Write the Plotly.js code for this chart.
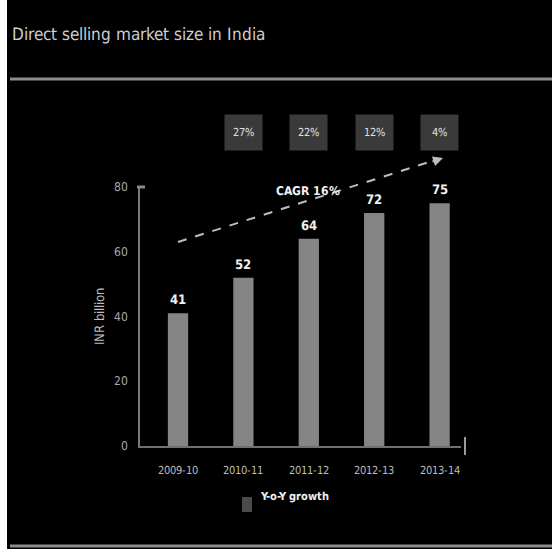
<!DOCTYPE html>
<html>
<head>
<meta charset="utf-8">
<script src="https://cdn.plot.ly/plotly-3.0.1.min.js"></script>
<style>
@font-face{font-family:"CondX";font-weight:400;src:local("Liberation Sans Narrow"),local("LiberationSansNarrow"),local("LiberationSansNarrow-Regular"),local("DejaVu Sans Condensed"),local("DejaVuSansCondensed"),local("DejaVuSans-Condensed");}
@font-face{font-family:"CondX";font-weight:700;src:local("Liberation Sans Narrow Bold"),local("LiberationSansNarrow-Bold"),local("DejaVu Sans Condensed Bold"),local("DejaVuSansCondensed-Bold"),local("DejaVuSans-BoldCondensed");}
html,body{margin:0;padding:0;background:#fff;}#chart{width:552px;height:549px;}
</style>
</head>
<body>
<div id="chart"></div>
<script>
// ---- data ----
const categories = ["2009-10", "2010-11", "2011-12", "2012-13", "2013-14"];
const marketSize = [41, 52, 64, 72, 75];
const growthCategories = ["2010-11", "2011-12", "2012-13", "2013-14"];
const growthPct = [27, 22, 12, 4];
const yTicks = [0, 20, 40, 60, 80];
const cagrLabel = "CAGR 16%";

// ---- layout helpers (pixel -> paper) ----
const W = 552, H = 549;
const L = 140, R = 461, T = 187, B = 446;
const px = x => (x - L) / (R - L);
const py = y => (B - y) / (B - T);
const FONT = 'CondX, "DejaVu Sans Condensed", "Arial Narrow", sans-serif';

function draw() {
  const barTrace = {
    type: "bar",
    x: categories,
    y: marketSize,
    marker: {color: "#858585", line: {width: 0}},
    width: 0.31,
    showlegend: false,
    hoverinfo: "x+y"
  };

  const annotations = [];
  categories.forEach((c, i) => {
    annotations.push({
      x: c, y: marketSize[i], xref: "x", yref: "y",
      text: "<b>" + marketSize[i] + "</b>", showarrow: false,
      yanchor: "bottom", yshift: 4,
      font: {family: FONT, size: 13, color: "#f0f0f0"}
    });
  });
  growthCategories.forEach((c, i) => {
    annotations.push({
      x: c, xref: "x", y: py(132), yref: "paper", yanchor: "middle",
      text: growthPct[i] + "%", showarrow: false,
      width: 37, height: 35, bgcolor: "#3a3a3a", borderpad: 0,
      font: {family: FONT, size: 11, color: "#e0e0e0"}
    });
  });
  annotations.push({
    x: px(308), y: py(182), xref: "paper", yref: "paper",
    text: "<b>" + cagrLabel + "</b>", showarrow: false,
    font: {family: FONT, size: 11.5, color: "#f0f0f0"}
  });
  annotations.push({
    x: px(443), y: py(158), xref: "paper", yref: "paper",
    text: "", showarrow: true, ax: -12, ay: 4,
    arrowhead: 2, arrowsize: 1, arrowwidth: 2, arrowcolor: "#bdbdbd"
  });
  annotations.push({
    x: px(258), y: py(505), xref: "paper", yref: "paper",
    text: "<b>Y-o-Y growth</b>", showarrow: false, xanchor: "left",
    font: {family: FONT, size: 11, color: "#f0f0f0"}
  });

  const shapes = [
    {type: "rect", xref: "paper", yref: "paper", x0: px(0), x1: px(7), y0: py(H), y1: py(0),
     fillcolor: "#ffffff", line: {width: 0}, layer: "below"},
    {type: "line", xref: "paper", yref: "paper", x0: px(10), x1: px(W), y0: py(79), y1: py(79),
     line: {color: "#8c8c8c", width: 3}},
    {type: "line", xref: "paper", yref: "paper", x0: px(10), x1: px(W), y0: py(546), y1: py(546),
     line: {color: "#8c8c8c", width: 3}},
    {type: "line", xref: "paper", yref: "paper", x0: px(137), x1: px(145), y0: py(187), y1: py(187),
     line: {color: "#8a8a8a", width: 3}},
    {type: "line", xref: "paper", yref: "paper", x0: px(465), x1: px(465), y0: py(437), y1: py(455),
     line: {color: "#9a9a9a", width: 2}},
    {type: "line", xref: "paper", yref: "paper", x0: px(178), y0: py(242), x1: px(434), y1: py(160.5),
     line: {color: "#bdbdbd", width: 2, dash: "dash"}},
    {type: "rect", xref: "paper", yref: "paper", x0: px(242), x1: px(252), y0: py(512), y1: py(497),
     fillcolor: "#4a4a4a", line: {width: 0}}
  ];

  const layout = {
    width: W, height: H,
    margin: {l: L, r: W - R, t: T, b: H - B, pad: 0},
    paper_bgcolor: "#000000",
    plot_bgcolor: "#000000",
    title: {
      text: "Direct selling market size in India",
      xref: "container", yref: "container",
      x: 12 / W, xanchor: "left", y: 1 - 34 / H, yanchor: "middle",
      font: {family: FONT, size: 16.5, color: "#cfcfcf"}
    },
    xaxis: {
      type: "category",
      range: [-0.581, 4.327],
      showgrid: false, zeroline: false,
      showline: true, linecolor: "#707070", linewidth: 2,
      ticks: "", ticklabelstandoff: 13,
      tickfont: {family: FONT, size: 11, color: "#bdbdbd"},
      fixedrange: true
    },
    yaxis: {
      range: [0, 80],
      tickvals: yTicks,
      showgrid: false, zeroline: false,
      showline: true, linecolor: "#7a7a7a", linewidth: 2,
      ticks: "", ticklabelstandoff: 8,
      tickfont: {family: FONT, size: 11.5, color: "#a8a8a8"},
      title: {text: "INR billion", standoff: 6, font: {family: FONT, size: 12.5, color: "#bdbdbd"}},
      fixedrange: true
    },
    showlegend: false,
    annotations: annotations,
    shapes: shapes
  };

  Plotly.newPlot("chart", [barTrace], layout, {displayModeBar: false, staticPlot: true});
}

const loads = [document.fonts.load('400 12px CondX'), document.fonts.load('700 12px CondX')];
Promise.all(loads).then(draw, draw);
</script>
</body>
</html>
